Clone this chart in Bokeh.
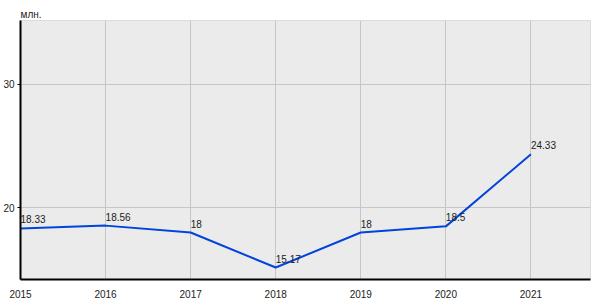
from bokeh.plotting import figure
from bokeh.models import ColumnDataSource, FixedTicker, Range1d
from bokeh.core.properties import value
from bokeh.embed import file_html
from bokeh.resources import INLINE

years = [2015, 2016, 2017, 2018, 2019, 2020, 2021]
values = [18.33, 18.56, 18, 15.17, 18, 18.5, 24.33]
labels = ["18.33", "18.56", "18", "15.17", "18", "18.5", "24.33"]
y_ticks = [20, 30]
unit = "млн."

FONT = "Liberation Sans"

src = ColumnDataSource(dict(x=years, y=values, t=labels))

p = figure(width=600, height=300, output_backend="svg", toolbar_location=None,
           x_range=Range1d(2015, 2021.7), y_range=Range1d(14.2, 35.16),
           min_border_left=20, min_border_right=10, min_border_top=20,
           min_border_bottom=19, title=unit)

p.title.text_font = FONT
p.title.text_font_size = "10px"
p.title.text_font_style = "normal"
p.title.text_color = "#222222"
p.title.align = "left"
p.title.offset = 0
p.title.standoff = 2

p.background_fill_color = "#ebebeb"
p.border_fill_color = "white"
p.outline_line_color = "#dcdcdc"

p.xgrid.ticker = FixedTicker(ticks=years)
p.ygrid.ticker = FixedTicker(ticks=y_ticks)
p.grid.grid_line_color = "#c6c6c6"
p.grid.grid_line_width = 1

p.xaxis.ticker = FixedTicker(ticks=years)
p.yaxis.ticker = FixedTicker(ticks=y_ticks)
for ax in (p.xaxis, p.yaxis):
    ax.axis_line_color = "black"
    ax.axis_line_width = 2
    ax.minor_tick_line_color = None
    ax.major_label_text_font = FONT
    ax.major_label_text_font_size = "10px"
    ax.major_label_text_color = "#222222"
p.xaxis.major_tick_line_color = None
p.xaxis.major_label_text_align = "left"
p.xaxis.major_label_standoff = 4
p.yaxis.major_tick_in = 0
p.yaxis.major_tick_out = 3
p.yaxis.major_tick_line_color = "black"
p.yaxis.major_label_standoff = 3

p.line("x", "y", source=src, line_color="#0044dd", line_width=2)
p.text("x", "y", text="t", source=src, text_font=value(FONT),
       text_font_size="10px", text_color="#222222", text_align="left",
       text_baseline="bottom", y_offset=-5)

open("out.html", "w").write(file_html(p, INLINE))
